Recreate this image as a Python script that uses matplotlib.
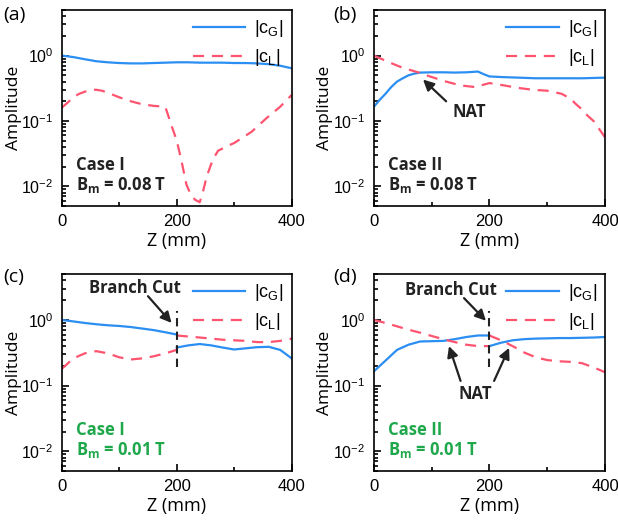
import matplotlib
matplotlib.use("Agg")
import matplotlib.pyplot as plt

plt.rcParams["font.family"] = ["Open Sans", "DejaVu Sans"]
plt.rcParams["mathtext.default"] = "regular"

BLUE = "#2b8ef2"
RED = "#ff5470"
GREEN = "#1ea84b"
INK = "#222222"

# (a) Case I, Bm = 0.08 T
z_a_G = [0, 20, 40, 60, 80, 100, 120, 140, 160, 180, 200, 220, 240, 260, 280, 300, 320, 340, 360, 380, 400]
cG_a = [1.0, 0.95, 0.88, 0.82, 0.79, 0.77, 0.76, 0.76, 0.77, 0.78, 0.79, 0.79, 0.78, 0.78, 0.78, 0.77, 0.77, 0.76, 0.74, 0.70, 0.64]
z_a_L = [0, 10, 20, 30, 40, 50, 60, 70, 80, 100, 120, 140, 160, 180, 186, 193, 200, 208, 217, 225, 232, 240, 246, 252, 263, 272, 290, 300, 330, 356, 380, 400]
cL_a = [0.16, 0.19, 0.23, 0.26, 0.28, 0.30, 0.30, 0.29, 0.27, 0.23, 0.20, 0.18, 0.17, 0.165, 0.115, 0.075, 0.05, 0.025, 0.0105, 0.0073, 0.0062, 0.0057, 0.0085, 0.014, 0.026, 0.035, 0.042, 0.046, 0.068, 0.11, 0.165, 0.25]

# (b) Case II, Bm = 0.08 T
z_b_G = [0, 10, 20, 30, 40, 50, 60, 70, 80, 100, 120, 140, 160, 180, 190, 200, 220, 250, 280, 300, 330, 360, 400]
cG_b = [0.165, 0.21, 0.26, 0.33, 0.40, 0.45, 0.50, 0.53, 0.55, 0.555, 0.555, 0.55, 0.555, 0.57, 0.52, 0.48, 0.47, 0.46, 0.45, 0.45, 0.45, 0.45, 0.46]
z_b_L = [0, 25, 50, 75, 100, 125, 150, 175, 200, 225, 250, 275, 300, 325, 340, 350, 360, 370, 380, 390, 400]
cL_b = [1.0, 0.8, 0.65, 0.56, 0.47, 0.40, 0.35, 0.33, 0.38, 0.35, 0.32, 0.30, 0.29, 0.26, 0.22, 0.18, 0.15, 0.12, 0.10, 0.075, 0.056]

# (c), (d): Bm = 0.01 T, curves jump at the branch cut (z = 200 mm)
z_left = [0, 20, 40, 60, 80, 100, 120, 140, 160, 180, 200]
z_right = [200, 220, 240, 260, 280, 300, 320, 340, 360, 380, 400]

cG_c1 = [1.0, 0.95, 0.90, 0.86, 0.83, 0.81, 0.78, 0.74, 0.70, 0.65, 0.60]
cL_c1 = [0.18, 0.26, 0.31, 0.335, 0.31, 0.27, 0.25, 0.26, 0.28, 0.31, 0.35]
cG_c2 = [0.38, 0.41, 0.43, 0.41, 0.38, 0.355, 0.37, 0.385, 0.39, 0.35, 0.26]
cL_c2 = [0.58, 0.56, 0.54, 0.52, 0.50, 0.49, 0.48, 0.46, 0.46, 0.48, 0.52]

cG_d1 = [0.165, 0.24, 0.35, 0.42, 0.47, 0.475, 0.48, 0.51, 0.55, 0.58, 0.58]
cL_d1 = [1.0, 0.9, 0.80, 0.71, 0.64, 0.57, 0.51, 0.46, 0.42, 0.40, 0.40]
cG_d2 = [0.40, 0.45, 0.49, 0.51, 0.52, 0.525, 0.53, 0.53, 0.535, 0.54, 0.55]
cL_d2 = [0.58, 0.49, 0.40, 0.32, 0.27, 0.245, 0.235, 0.23, 0.22, 0.19, 0.16]

panel_tags = ["(a)", "(b)", "(c)", "(d)"]
case_names = ["Case I", "Case II", "Case I", "Case II"]
fields = ["0.08", "0.08", "0.01", "0.01"]
lab_G = r"|c$_G$|"
lab_L = r"|c$_L$|"


def style_axes(ax):
    ax.set_yscale("log")
    ax.set_xlim(0, 400)
    ax.set_ylim(5e-3, 5)
    ax.set_xticks([0, 200, 400])
    ax.set_xticks([100, 300], minor=True)
    ax.tick_params(which="both", direction="in", top=False, right=False,
                   width=1.2, labelsize=12)
    ax.tick_params(axis="y", labelsize=11.5)
    ax.tick_params(which="major", length=5)
    ax.tick_params(axis="x", which="major", pad=6)
    ax.tick_params(axis="y", which="major", pad=6)
    ax.tick_params(which="minor", length=3)
    for lab in ax.get_xticklabels() + ax.get_yticklabels():
        lab.set_fontfamily("Liberation Sans")
    for s in ax.spines.values():
        s.set_linewidth(1.2)
    ax.set_xlabel("Z (mm)", fontsize=13, labelpad=2)
    ax.set_ylabel("Amplitude", fontsize=12.5)
    ax.yaxis.set_label_coords(-0.175, 0.5)


def arrow(ax, tail, tip):
    ax.annotate("", xy=tip, xytext=tail,
                arrowprops=dict(arrowstyle="-|>", color=INK, lw=1.6,
                                mutation_scale=16, shrinkA=0, shrinkB=0))


fig = plt.figure(figsize=(6.18, 5.24), dpi=100)
boxes = [[0.100, 0.607, 0.372, 0.374], [0.605, 0.607, 0.374, 0.374],
         [0.100, 0.101, 0.372, 0.376], [0.605, 0.101, 0.374, 0.376]]
axes = [fig.add_axes(b) for b in boxes]

lw = 1.6
dash = (5, 3.5)
ax = axes[0]
ax.plot(z_a_G, cG_a, color=BLUE, lw=lw, label=lab_G)
ax.plot(z_a_L, cL_a, color=RED, lw=lw, dashes=dash, label=lab_L)

ax = axes[1]
ax.plot(z_b_G, cG_b, color=BLUE, lw=lw, label=lab_G)
ax.plot(z_b_L, cL_b, color=RED, lw=lw, dashes=dash, label=lab_L)
arrow(ax, (125, 0.20), (85, 0.43))
ax.text(166, 0.135, "NAT", fontsize=12, fontweight="bold", color=INK,
        ha="center", va="center")

ax = axes[2]
ax.plot(z_left, cG_c1, color=BLUE, lw=lw, label=lab_G)
ax.plot(z_right, cG_c2, color=BLUE, lw=lw)
ax.plot(z_left, cL_c1, color=RED, lw=lw, dashes=dash, label=lab_L)
ax.plot(z_right, cL_c2, color=RED, lw=lw, dashes=dash)
ax.plot([200, 200], [0.19, 1.35], color=INK, lw=1.5, dashes=(4, 2.5))
arrow(ax, (150, 2.3), (191, 0.9))
ax.text(127, 3.05, "Branch Cut", fontsize=12, fontweight="bold", color=INK,
        ha="center", va="center")

ax = axes[3]
ax.plot(z_left, cG_d1, color=BLUE, lw=lw, label=lab_G)
ax.plot(z_right, cG_d2, color=BLUE, lw=lw)
ax.plot(z_left, cL_d1, color=RED, lw=lw, dashes=dash, label=lab_L)
ax.plot(z_right, cL_d2, color=RED, lw=lw, dashes=dash)
ax.plot([200, 200], [0.19, 1.35], color=INK, lw=1.5, dashes=(4, 2.5))
arrow(ax, (156, 2.15), (194, 0.97))
ax.text(133, 2.9, "Branch Cut", fontsize=12, fontweight="bold", color=INK,
        ha="center", va="center")
arrow(ax, (150, 0.118), (130, 0.40))
arrow(ax, (208, 0.118), (234, 0.376))
ax.text(176, 0.074, "NAT", fontsize=12, fontweight="bold", color=INK,
        ha="center", va="center")

for i, ax in enumerate(axes):
    style_axes(ax)
    ax.legend(loc="upper right", frameon=False,
              prop={"family": "Liberation Sans", "size": 13},
              handlelength=2.9, labelspacing=0.45, borderaxespad=0.05,
              handletextpad=0.5)
    col = INK if i < 2 else GREEN
    ax.text(0.06, 0.21, case_names[i], transform=ax.transAxes, fontsize=12,
            fontweight="bold", color=col, va="center")
    ax.text(0.06, 0.105, r"B$_m$ = " + fields[i] + " T", transform=ax.transAxes,
            fontsize=12, fontweight="bold", color=col, va="center")
    x0 = 0.005 if i % 2 == 0 else 0.54
    y0 = 0.972 if i < 2 else 0.472
    fig.text(x0, y0, panel_tags[i], fontsize=14, va="center", ha="left")

fig.savefig("out.png", dpi=100)
